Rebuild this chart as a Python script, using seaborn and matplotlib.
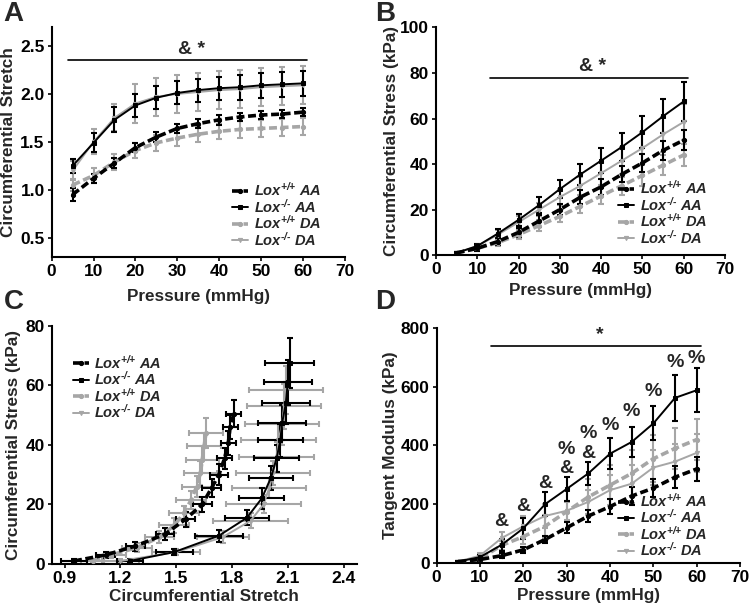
import numpy as np
import pandas as pd
import seaborn as sns
import matplotlib.pyplot as plt

# ---------------- data ----------------
pressure = [5, 10, 15, 20, 25, 30, 35, 40, 45, 50, 55, 60]
groups = ['Lox+/+ AA', 'Lox-/- AA', 'Lox+/+ DA', 'Lox-/- DA']
labels = [r'Lox$^{\text{+/+}}$ AA', r'Lox$^{\text{-/-}}$ AA',
          r'Lox$^{\text{+/+}}$ DA', r'Lox$^{\text{-/-}}$ DA']

# circumferential stretch (panel A)
stretch_wt_aa = [0.95, 1.12, 1.28, 1.44, 1.55, 1.64, 1.69, 1.73, 1.76, 1.78, 1.79, 1.81]
stretch_ko_aa = [1.25, 1.49, 1.73, 1.88, 1.96, 2.01, 2.04, 2.06, 2.07, 2.09, 2.10, 2.11]
stretch_wt_da = [1.05, 1.15, 1.29, 1.41, 1.49, 1.54, 1.58, 1.61, 1.63, 1.64, 1.65, 1.66]
stretch_ko_da = [1.20, 1.50, 1.75, 1.90, 1.97, 2.00, 2.02, 2.04, 2.05, 2.07, 2.08, 2.09]
stretch_err_wt_aa = [0.07, 0.05, 0.05, 0.05, 0.05, 0.05, 0.05, 0.05, 0.04, 0.04, 0.04, 0.04]
stretch_err_ko_aa = [0.07, 0.10, 0.13, 0.12, 0.12, 0.12, 0.12, 0.12, 0.13, 0.13, 0.13, 0.13]
stretch_err_wt_da = [0.06, 0.08, 0.08, 0.08, 0.08, 0.08, 0.08, 0.08, 0.09, 0.09, 0.09, 0.09]
stretch_err_ko_da = [0.10, 0.13, 0.14, 0.20, 0.20, 0.20, 0.20, 0.20, 0.20, 0.20, 0.20, 0.20]

# circumferential stress, kPa (panel B)
stress_wt_aa = [1, 3, 6, 10, 15, 20, 25.5, 30, 35.5, 40.5, 46, 50.5]
stress_ko_aa = [1, 4, 9.5, 15.5, 22, 29, 35.5, 41.5, 47.5, 54, 61, 67.5]
stress_wt_da = [1, 3, 5.5, 9, 13, 17, 21.5, 26, 30.5, 35, 39.5, 44]
stress_ko_da = [1, 4, 9, 14.5, 20, 25.5, 30.5, 36, 41.5, 47, 53, 58.5]
stress_err_wt_aa = [0.5, 1, 1.5, 2, 2.5, 2.5, 3, 3.5, 3.5, 4, 4, 4.5]
stress_err_ko_aa = [0.5, 1, 2, 2.5, 3.5, 4, 4.5, 5.5, 6, 7, 7.5, 8.5]
stress_err_wt_da = [0.5, 1, 1.5, 2, 2.5, 2.5, 3, 3.5, 4, 4.5, 4.5, 5]
stress_err_ko_da = [0.5, 1, 2, 2.5, 3, 3.5, 4, 5, 6, 7, 7.5, 8]

# tangent modulus, kPa (panel D)
modulus_wt_aa = [5, 12, 25, 45, 80, 120, 160, 192, 228, 255, 292, 320]
modulus_ko_aa = [5, 20, 62, 118, 200, 252, 305, 372, 412, 475, 562, 588]
modulus_wt_da = [5, 15, 60, 90, 125, 175, 225, 265, 305, 355, 390, 420]
modulus_ko_da = [5, 25, 85, 125, 160, 178, 208, 248, 270, 325, 345, 375]
modulus_err_wt_aa = [3, 5, 8, 10, 12, 18, 22, 25, 30, 30, 38, 40]
modulus_err_ko_aa = [3, 8, 20, 35, 40, 40, 40, 52, 52, 58, 78, 75]
modulus_err_wt_da = [3, 8, 15, 25, 40, 35, 60, 70, 80, 80, 70, 70]
modulus_err_ko_da = [3, 10, 20, 35, 40, 30, 40, 50, 65, 60, 60, 65]

# significance marks
bar_a = (4, 61, 2.35, '& *')
bar_b = (13, 61, 78, '& *')
bar_d = (12.5, 61, 740, '*')
d_sig_x = [15, 20, 25, 30, 30, 35, 35, 40, 45, 50, 55, 60]
d_sig_y = [141, 192, 271, 322, 388, 373, 441, 467, 517, 583, 682, 696]
d_sig_text = ['&', '&', '&', '&', '%', '&', '%', '%', '%', '%', '%', '%']

# ---------------- style ----------------
sns.set_style('ticks')
plt.rcParams['font.family'] = ['Liberation Sans', 'DejaVu Sans']
plt.rcParams['font.weight'] = 'bold'
plt.rcParams['axes.labelweight'] = 'bold'
plt.rcParams['mathtext.fontset'] = 'custom'
plt.rcParams['mathtext.rm'] = 'Liberation Sans:italic:bold'
plt.rcParams['mathtext.it'] = 'Liberation Sans:italic:bold'
plt.rcParams['mathtext.default'] = 'rm'

gray = '#a6a6a6'
styles = {
    'Lox+/+ AA': dict(color='black', ls='--', lw=2.6, marker='o', ms=3),
    'Lox-/- AA': dict(color='black', ls='-', lw=1.4, marker='s', ms=3),
    'Lox+/+ DA': dict(color=gray, ls='--', lw=2.6, marker='o', ms=3),
    'Lox-/- DA': dict(color=gray, ls='-', lw=1.4, marker='v', ms=3),
}
draw_order = ['Lox-/- DA', 'Lox+/+ DA', 'Lox-/- AA', 'Lox+/+ AA']

stretch = dict(zip(groups, [stretch_wt_aa, stretch_ko_aa, stretch_wt_da, stretch_ko_da]))
stretch_err = dict(zip(groups, [stretch_err_wt_aa, stretch_err_ko_aa, stretch_err_wt_da, stretch_err_ko_da]))
stress = dict(zip(groups, [stress_wt_aa, stress_ko_aa, stress_wt_da, stress_ko_da]))
stress_err = dict(zip(groups, [stress_err_wt_aa, stress_err_ko_aa, stress_err_wt_da, stress_err_ko_da]))
modulus = dict(zip(groups, [modulus_wt_aa, modulus_ko_aa, modulus_wt_da, modulus_ko_da]))
modulus_err = dict(zip(groups, [modulus_err_wt_aa, modulus_err_ko_aa, modulus_err_wt_da, modulus_err_ko_da]))

fig = plt.figure(figsize=(7.49, 6.09), dpi=100)
axA = fig.add_axes([0.069, 0.578, 0.391, 0.378])
axB = fig.add_axes([0.582, 0.581, 0.386, 0.374])
axC = fig.add_axes([0.069, 0.074, 0.407, 0.391])
axD = fig.add_axes([0.583, 0.0755, 0.405, 0.386])


def draw_panel(ax, xs, xerrs, ys, yerrs):
    for g in draw_order:
        st = styles[g]
        df = pd.DataFrame({'x': xs[g], 'y': ys[g]})
        ax.errorbar(df['x'], df['y'], yerr=yerrs[g],
                    xerr=None if xerrs is None else xerrs[g],
                    fmt='none', ecolor=st['color'], elinewidth=1.5,
                    capsize=2, capthick=1.5, zorder=2)
        sns.lineplot(data=df, x='x', y='y', ax=ax, sort=False,
                     color=st['color'], lw=st['lw'], marker=st['marker'],
                     markersize=st['ms'], markeredgecolor=st['color'],
                     label=labels[groups.index(g)], zorder=3)
        if st['ls'] == '--':
            ax.lines[-1].set_dashes((2.2, 1.0))


def legend(ax, **kw):
    h, l = ax.get_legend_handles_labels()
    order = [l.index(lab) for lab in labels]
    ax.legend([h[i] for i in order], [l[i] for i in order], frameon=False,
              prop={'size': 10.5, 'style': 'italic', 'weight': 'bold'},
              handlelength=1.1, handletextpad=0.4,
              labelspacing=-0.1, borderaxespad=0.2, **kw)


def finish(ax):
    for s in ['top', 'right']:
        ax.spines[s].set_visible(False)
    for s in ['left', 'bottom']:
        ax.spines[s].set_linewidth(1.5)
        ax.spines[s].set_color('black')
    ax.tick_params(labelsize=12.5, width=1.2, length=3, pad=2, colors='black')
    for t in ax.get_xticklabels() + ax.get_yticklabels():
        t.set_fontweight('bold')
    ax.xaxis.label.set_size(12.3)
    ax.yaxis.label.set_size(12.3)


def sig_bar(ax, bar, dy):
    x0, x1, y, txt = bar
    ax.plot([x0, x1], [y, y], color='black', lw=1.2)
    ax.text((x0 + x1) / 2 + 1, y + dy, txt, ha='center', va='bottom',
            fontsize=14, fontweight='bold')


press = {g: pressure for g in groups}

# A
draw_panel(axA, press, None, stretch, stretch_err)
axA.set_xlim(0, 70)
axA.set_ylim(0.3, 2.7)
axA.set_xticks(range(0, 71, 10))
axA.set_yticks([0.5, 1.0, 1.5, 2.0, 2.5])
axA.set_yticklabels(['0.5', '1.0', '1.5', '2.0', '2.5'])
axA.set_xlabel('Pressure (mmHg)', labelpad=7)
axA.set_ylabel('Circumferential Stretch', labelpad=3)
sig_bar(axA, bar_a, 0.02)
legend(axA, loc='lower right', bbox_to_anchor=(0.95, 0.0))
finish(axA)

# B
draw_panel(axB, press, None, stress, stress_err)
axB.set_xlim(0, 70)
axB.set_ylim(0, 100)
axB.set_xticks(range(0, 71, 10))
axB.set_yticks(range(0, 101, 20))
axB.set_xlabel('Pressure (mmHg)', labelpad=4)
axB.set_ylabel('Circumferential Stress (kPa)', labelpad=1)
sig_bar(axB, bar_b, 1)
legend(axB, loc='lower right', bbox_to_anchor=(0.97, 0.0))
finish(axB)

# C
draw_panel(axC, stretch, stretch_err, stress, stress_err)
axC.set_xlim(0.83, 2.47)
axC.set_ylim(0, 80)
axC.set_xticks([0.9, 1.2, 1.5, 1.8, 2.1, 2.4])
axC.set_xticklabels(['0.9', '1.2', '1.5', '1.8', '2.1', '2.4'])
axC.set_yticks(range(0, 81, 20))
axC.set_xlabel('Circumferential Stretch', labelpad=2)
axC.set_ylabel('Circumferential Stress (kPa)', labelpad=3)
legend(axC, loc='upper left', bbox_to_anchor=(0.04, 0.92))
finish(axC)

# D
draw_panel(axD, press, None, modulus, modulus_err)
axD.set_xlim(0, 70)
axD.set_ylim(0, 800)
axD.set_xticks(range(0, 71, 10))
axD.set_yticks(range(0, 801, 200))
axD.set_xlabel('Pressure (mmHg)', labelpad=2)
axD.set_ylabel('Tangent Modulus (kPa)', labelpad=2)
sig_bar(axD, bar_d, 8)
for x, y, t in zip(d_sig_x, d_sig_y, d_sig_text):
    axD.text(x, y, t, ha='center', va='center', fontsize=14, fontweight='bold')
legend(axD, loc='lower right', bbox_to_anchor=(0.92, -0.02))
finish(axD)

# panel letters
for lab, x, y in [('A', 0.005, 0.998), ('B', 0.501, 0.998), ('C', 0.005, 0.525), ('D', 0.501, 0.525)]:
    fig.text(x, y, lab, fontsize=20, fontweight='bold', va='top', ha='left')

fig.savefig('out.png', dpi=100)
